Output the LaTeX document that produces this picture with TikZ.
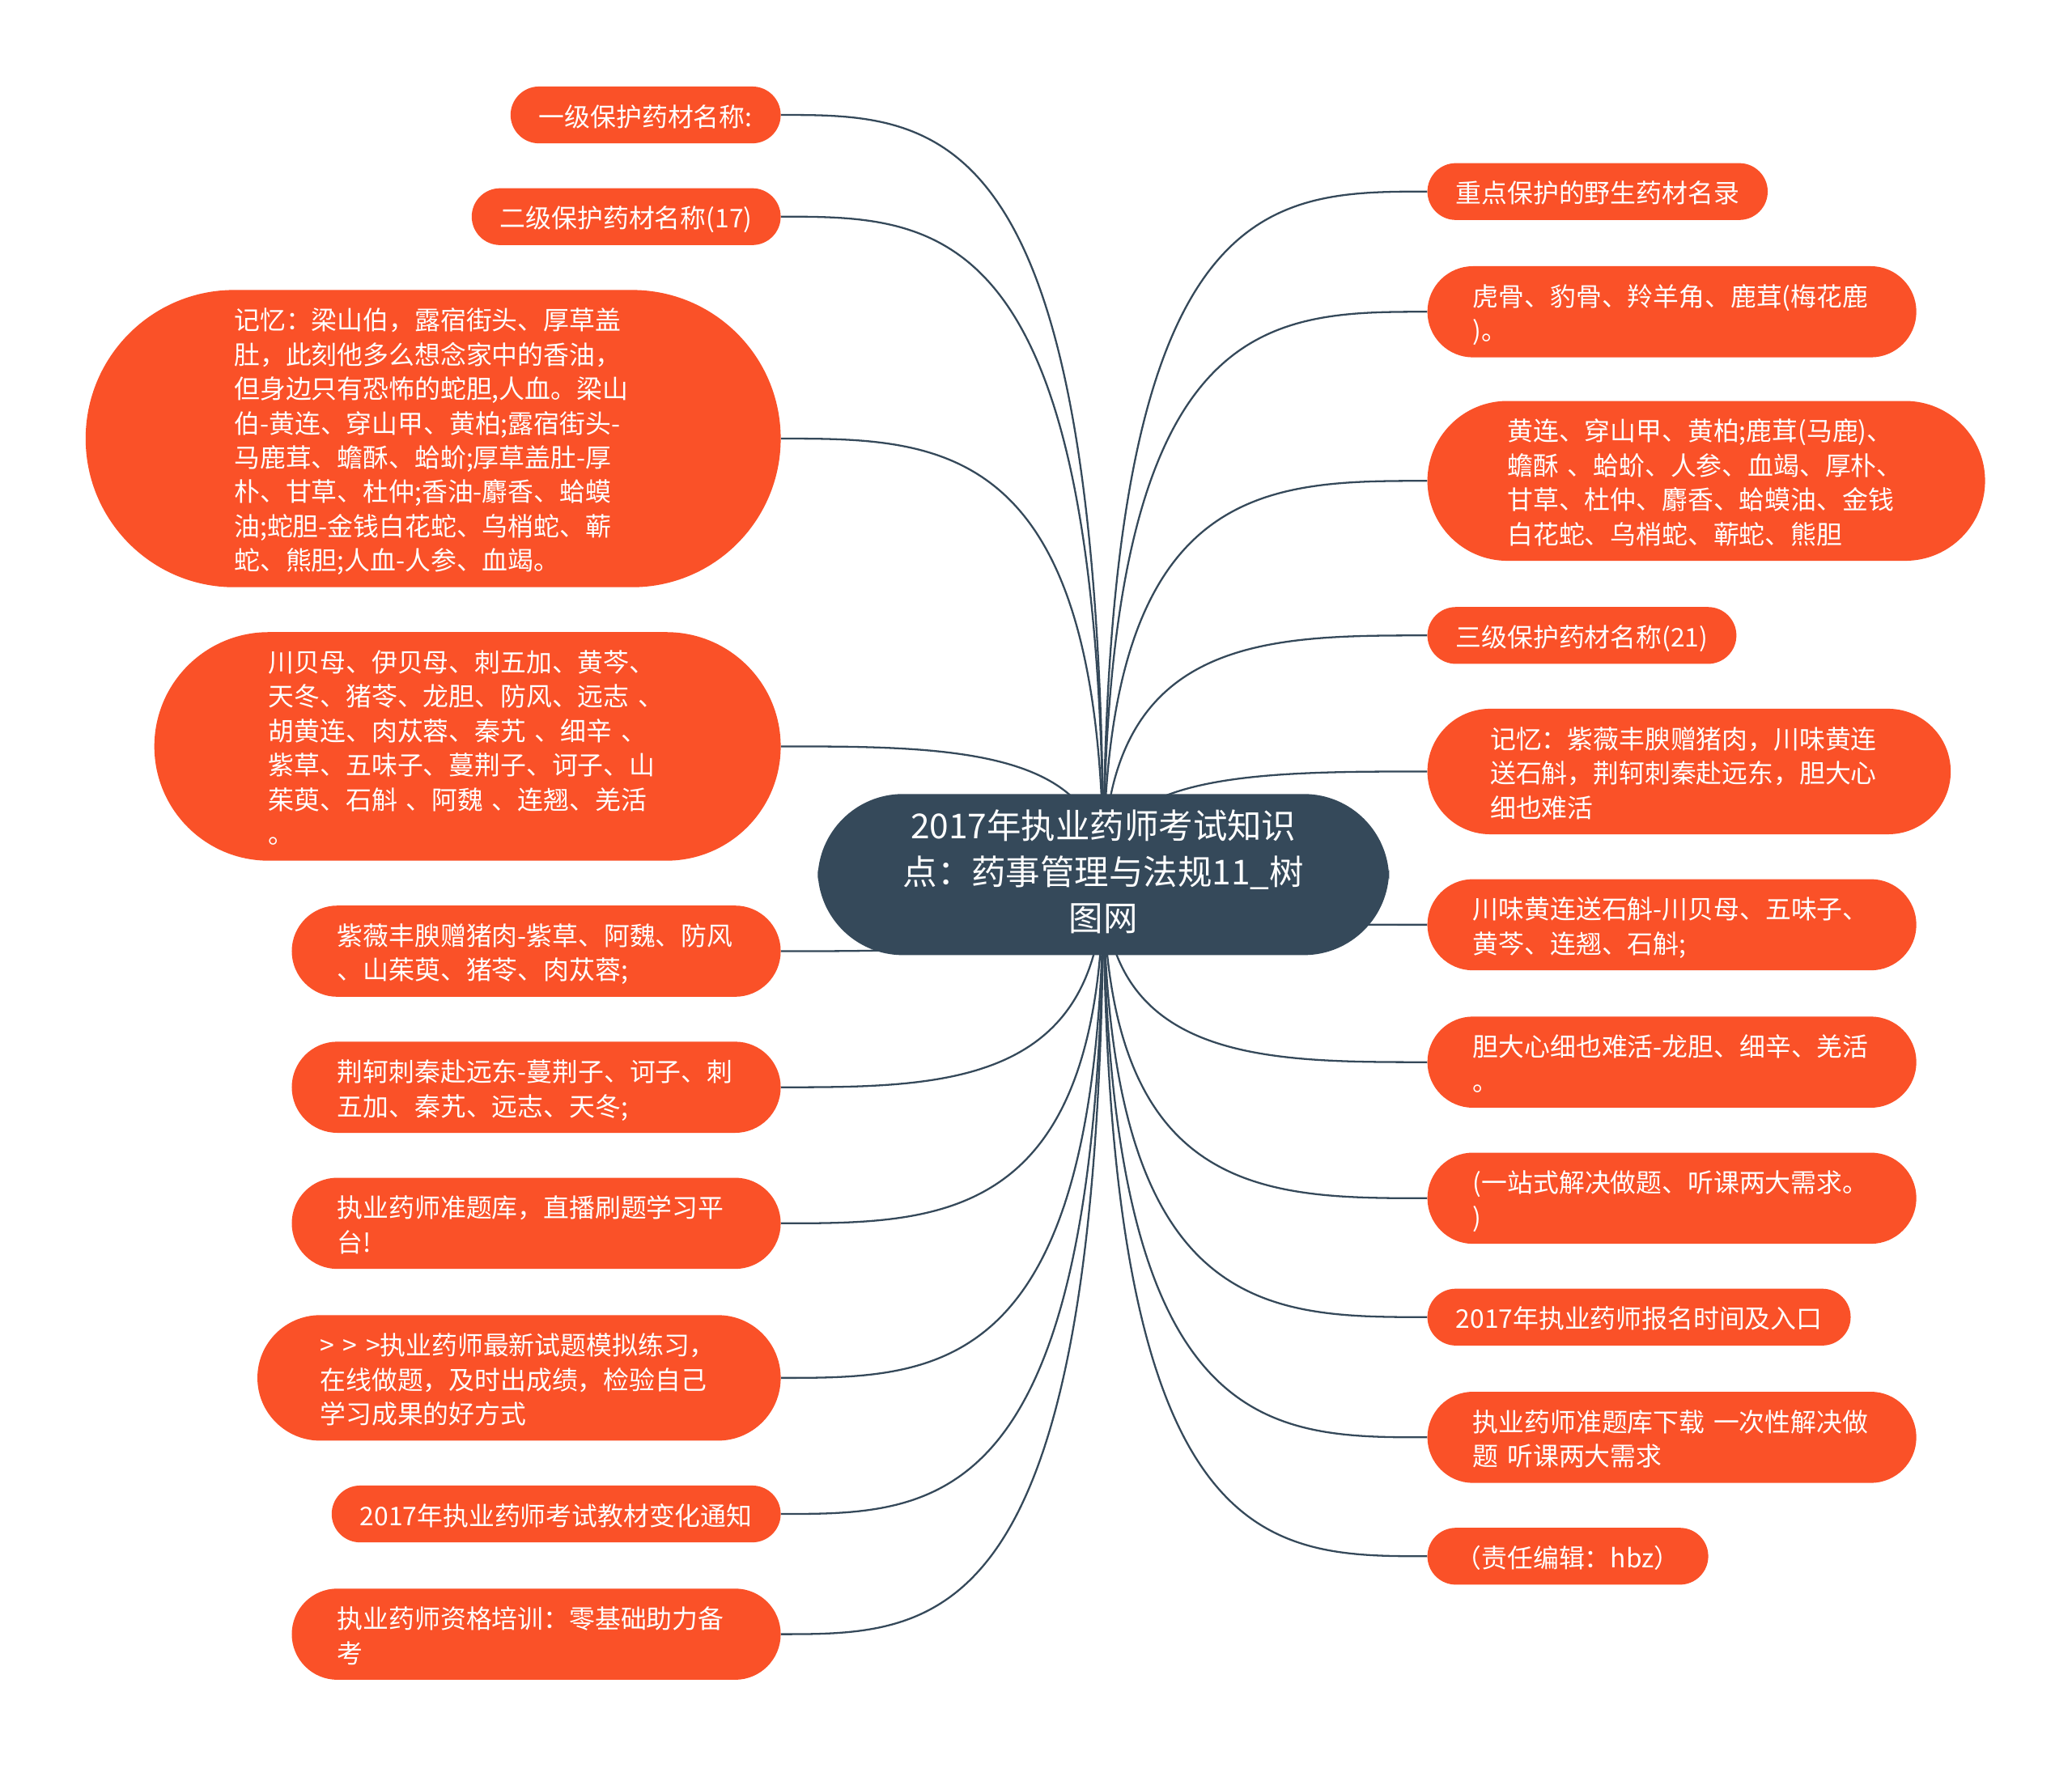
\documentclass[tikz,border=0pt]{standalone}
\usepackage{fontspec}
\newfontfamily\cjk{Noto Sans CJK SC}
\usetikzlibrary{backgrounds,calc}

\definecolor{leafred}{HTML}{FA5128}
\definecolor{slate}{HTML}{35495A}
\newcommand{\lstrut}{\rule[-4.3pt]{0pt}{26pt}}
\newcommand{\tstrut}{\rule[-6pt]{0pt}{35pt}}

\begin{document}
\begin{tikzpicture}[x=1pt, y=-1pt,
    every node/.style={font=\cjk\fontsize{19.5}{26}\selectfont, text=white},
    leaf/.style={rectangle, fill=leafred, rounded corners=#1, inner xsep=#1, inner ysep=8.5pt,
      align=left, execute at begin node=\lstrut, execute at end node=\lstrut},
    lhs/.style={leaf=#1, anchor=east},
    rhs/.style={leaf=#1, anchor=west},
    wide/.style={text width=301pt},
    topic/.style={rectangle, fill=slate, rounded corners=64.5pt, inner xsep=64.5pt, inner ysep=12pt,
      align=center, font=\cjk\fontsize{26}{35}\selectfont,
      execute at begin node=\tstrut, execute at end node=\tstrut},
    branch/.style={draw=slate, line width=1.4pt,
      to path={.. controls (\tikztostart |- \tikztotarget)
        and ($(\tikztostart |- \tikztotarget)!0.5!(\tikztotarget)$) .. (\tikztotarget)}}]
    \useasboundingbox (0,0) rectangle (1568,1338);

    \node[topic] (c) at (835,662) {2017年执业药师考试知识\\点：药事管理与法规11\_树\\图网};

    % left side (radius = half the box height)
    \node[lhs=21.5pt] (l1) at (591,87) {一级保护药材名称:};
    \node[lhs=21.5pt] (l2) at (591,164) {二级保护药材名称(17)};
    \node[lhs=112.5pt, wide] (l3) at (591,332) {记忆：梁山伯，露宿街头、厚草盖\\肚，此刻他多么想念家中的香油，\\但身边只有恐怖的蛇胆,人血。梁山\\伯-黄连、穿山甲、黄柏;露宿街头-\\马鹿茸、蟾酥、蛤蚧;厚草盖肚-厚\\朴、甘草、杜仲;香油-麝香、蛤蟆\\油;蛇胆-金钱白花蛇、乌梢蛇、蕲\\蛇、熊胆;人血-人参、血竭。};
    \node[lhs=86.5pt, wide] (l4) at (591,565) {川贝母、伊贝母、刺五加、黄芩、\\天冬、猪苓、龙胆、防风、远志 、\\胡黄连、肉苁蓉、秦艽 、细辛 、\\紫草、五味子、蔓荆子、诃子、山\\茱萸、石斛 、阿魏 、连翘、羌活\\。};
    \node[lhs=34.5pt, wide] (l5) at (591,720) {紫薇丰腴赠猪肉-紫草、阿魏、防风\\、山茱萸、猪苓、肉苁蓉;};
    \node[lhs=34.5pt, wide] (l6) at (591,823) {荆轲刺秦赴远东-蔓荆子、诃子、刺\\五加、秦艽、远志、天冬;};
    \node[lhs=34.5pt, wide] (l7) at (591,926) {执业药师准题库，直播刷题学习平\\台!};
    \node[lhs=47.5pt, wide] (l8) at (591,1043) {> > >执业药师最新试题模拟练习，\\在线做题，及时出成绩，检验自己\\学习成果的好方式};
    \node[lhs=21.5pt] (l9) at (591,1146) {2017年执业药师考试教材变化通知};
    \node[lhs=34.5pt, wide] (l10) at (591,1237) {执业药师资格培训：零基础助力备\\考};

    % right side
    \node[rhs=21.5pt] (r1) at (1080,145) {重点保护的野生药材名录};
    \node[rhs=34.5pt, wide] (r2) at (1080,236) {虎骨、豹骨、羚羊角、鹿茸(梅花鹿\\)。};
    \node[rhs=60.5pt, wide] (r3) at (1080,364) {黄连、穿山甲、黄柏;鹿茸(马鹿)、\\蟾酥 、蛤蚧、人参、血竭、厚朴、\\甘草、杜仲、麝香、蛤蟆油、金钱\\白花蛇、乌梢蛇、蕲蛇、熊胆};
    \node[rhs=21.5pt] (r4) at (1080,481) {三级保护药材名称(21)};
    \node[rhs=47.5pt, wide] (r5) at (1080,584) {记忆：紫薇丰腴赠猪肉，川味黄连\\送石斛，荆轲刺秦赴远东，胆大心\\细也难活};
    \node[rhs=34.5pt, wide] (r6) at (1080,700) {川味黄连送石斛-川贝母、五味子、\\黄芩、连翘、石斛;};
    \node[rhs=34.5pt, wide] (r7) at (1080,804) {胆大心细也难活-龙胆、细辛、羌活\\。};
    \node[rhs=34.5pt, wide] (r8) at (1080,907) {(一站式解决做题、听课两大需求。\\)};
    \node[rhs=21.5pt] (r9) at (1080,997) {2017年执业药师报名时间及入口};
    \node[rhs=34.5pt, wide] (r10) at (1080,1088) {执业药师准题库下载 一次性解决做\\题 听课两大需求};
    \node[rhs=21.5pt] (r11) at (1080,1178) {（责任编辑：hbz）};

    \begin{scope}[on background layer]
      \fill[white] (0,0) rectangle (1568,1338);
      \path[branch]
        (c.center) edge (l1.east)
        (c.center) edge (l2.east)
        (c.center) edge (l3.east)
        (c.center) edge (l4.east)
        (c.center) edge (l5.east)
        (c.center) edge (l6.east)
        (c.center) edge (l7.east)
        (c.center) edge (l8.east)
        (c.center) edge (l9.east)
        (c.center) edge (l10.east)
        (c.center) edge (r1.west)
        (c.center) edge (r2.west)
        (c.center) edge (r3.west)
        (c.center) edge (r4.west)
        (c.center) edge (r5.west)
        (c.center) edge (r6.west)
        (c.center) edge (r7.west)
        (c.center) edge (r8.west)
        (c.center) edge (r9.west)
        (c.center) edge (r10.west)
        (c.center) edge (r11.west);
    \end{scope}
  \end{tikzpicture}
\end{document}
